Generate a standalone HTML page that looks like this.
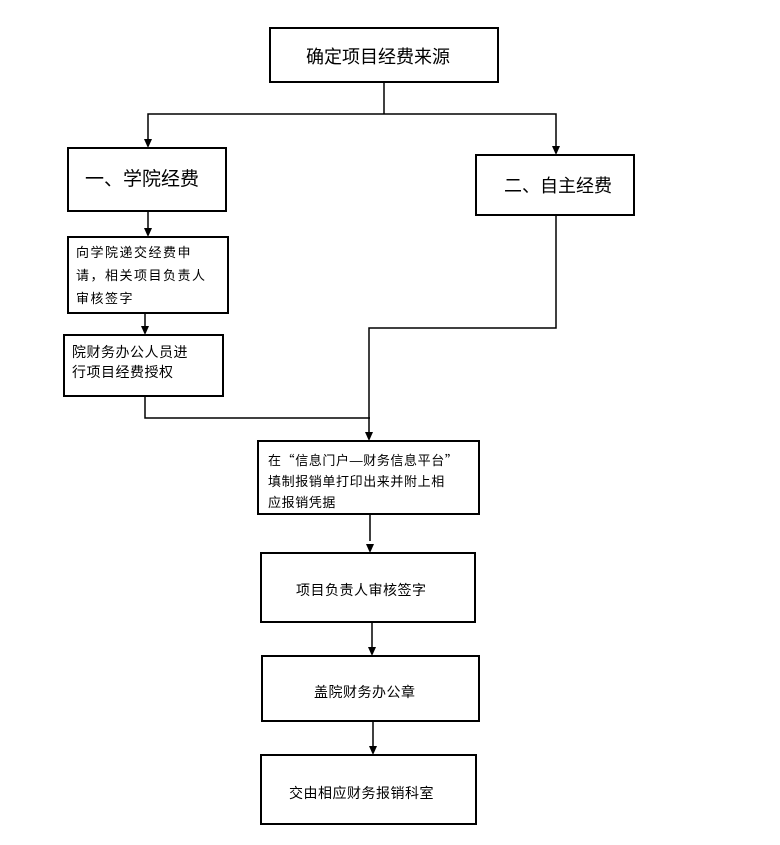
<!DOCTYPE html>
<html><head><meta charset="utf-8"><style>
html,body{margin:0;padding:0;background:#fff;}
body{width:780px;height:845px;position:relative;overflow:hidden;font-family:"Liberation Sans","Noto Sans CJK SC",sans-serif;color:#000;}
.b{position:absolute;border:2px solid #000;box-sizing:border-box;background:#fff;}
.t{position:absolute;white-space:nowrap;}
.q{font-family:"Noto Sans CJK SC",sans-serif;}
svg{position:absolute;left:0;top:0;z-index:5;}
</style></head><body>
<div class="b" style="left:269px;top:27px;width:230px;height:56px"></div>
<div class="t" style="left:306px;top:43px;font-size:18px">确定项目经费来源</div>
<div class="b" style="left:67px;top:147px;width:160px;height:65px"></div>
<div class="t" style="left:85px;top:164px;font-size:19px">一、学院经费</div>
<div class="b" style="left:475px;top:154px;width:160px;height:62px"></div>
<div class="t" style="left:504px;top:172px;font-size:18px">二、自主经费</div>
<div class="b" style="left:67px;top:236px;width:162px;height:78px"></div>
<div class="t" style="left:76px;top:241px;font-size:13px;line-height:23px;letter-spacing:1.5px">向学院递交经费申<br>请，相关项目负责人<br>审核签字</div>
<div class="b" style="left:63px;top:334px;width:161px;height:63px"></div>
<div class="t" style="left:72px;top:342px;font-size:14px;line-height:20px;letter-spacing:0.5px">院财务办公人员进<br>行项目经费授权</div>
<div class="b" style="left:257px;top:440px;width:223px;height:75px"></div>
<div class="t" style="left:268px;top:449px;font-size:13px;line-height:21px;letter-spacing:0.6px">在<span class="q">“</span>信息门户—财务信息平台<span class="q">”</span><br>填制报销单打印出来并附上相<br>应报销凭据</div>
<div class="b" style="left:260px;top:552px;width:216px;height:71px"></div>
<div class="t" style="left:296px;top:580px;font-size:14px;letter-spacing:0.5px">项目负责人审核签字</div>
<div class="b" style="left:261px;top:655px;width:219px;height:67px"></div>
<div class="t" style="left:314px;top:682px;font-size:14px;letter-spacing:0.5px">盖院财务办公章</div>
<div class="b" style="left:260px;top:754px;width:217px;height:71px"></div>
<div class="t" style="left:289px;top:783px;font-size:14px;letter-spacing:0.5px">交由相应财务报销科室</div>
<svg width="780" height="845">
<g stroke="#000" stroke-width="1.5" fill="none">
<path d="M384,83 V114"/>
<path d="M384,114 H148 V140"/>
<path d="M384,114 H556 V147"/>
<path d="M148,212 V229"/>
<path d="M145,314 V327"/>
<path d="M145,397 V418 H370"/>
<path d="M556,216 V328 H369 V433"/>
<path d="M370,515 V541"/>
<path d="M372,623 V648"/>
<path d="M373,722 V747"/>
</g>
<g fill="#000">
<path d="M144,139 L152,139 L148,148 z"/>
<path d="M552,146 L560,146 L556,155 z"/>
<path d="M144,228 L152,228 L148,237 z"/>
<path d="M141,326 L149,326 L145,335 z"/>
<path d="M365,432 L373,432 L369,441 z"/>
<path d="M366,544 L374,544 L370,553 z"/>
<path d="M368,647 L376,647 L372,656 z"/>
<path d="M369,746 L377,746 L373,755 z"/>
</g></svg>
</body></html>
